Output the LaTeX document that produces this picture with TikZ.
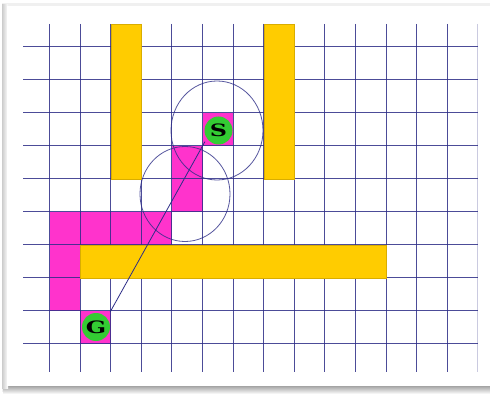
\documentclass[tikz,border=0pt]{standalone}
\usepackage{fontspec}
\newfontfamily\letterfont{DejaVu Serif}
\definecolor{gridc}{RGB}{45,45,135}
\definecolor{barc}{RGB}{255,204,0}
\definecolor{magc}{RGB}{255,51,204}
\definecolor{grnc}{RGB}{51,204,51}
\tikzset{
  gridline/.style={draw=gridc, line width=1pt, opacity=0.85},
  bar/.style={fill=barc, draw=barc!85!black, line width=0.3pt},
  visited/.style={fill=magc},
  ring/.style={draw=gridc, line width=0.8pt, opacity=0.8},
  goal/.style={circle, fill=grnc, minimum size=28pt, inner sep=0pt,
    font=\letterfont\bfseries\fontsize{17}{17}\selectfont},
}
\begin{document}
\begin{tikzpicture}[x=1pt,y=-1pt]
\useasboundingbox (0,0) rectangle (490,395);
% frame with shadow
\fill[gray!12] (2,3) rectangle (490,392);
\shade[top color=gray!80, bottom color=white] (3,385) rectangle (490,394);
\shade[left color=gray!40, right color=white] (2,5) rectangle (8,388);
\fill[white] (7,6) rectangle (490,386);
% visited cells (magenta)
\fill[visited] (202.5,113) rectangle (233.1,146);
\fill[visited] (171.9,146) rectangle (202.5,212);
\fill[visited] (49.5,212) rectangle (171.9,245);
\fill[visited] (49.5,245) rectangle (80.1,311);
\fill[visited] (80.1,311) rectangle (110.7,344);
% grid
\foreach \k in {0,...,13} {
  \draw[gridline] ({49.5+30.6*\k},24) -- ({49.5+30.6*\k},372);
}
\draw[gridline, opacity=0.25] (477.9,24) -- (477.9,372);
\foreach \j in {0,...,9} {
  \draw[gridline] (23,{47+33*\j}) -- (478,{47+33*\j});
}
% obstacles (yellow)
\filldraw[bar] (110.7,24) rectangle (141.3,179);
\filldraw[bar] (263.7,24) rectangle (294.3,179);
\filldraw[bar] (80.1,245) rectangle (386.1,278);
% search circles
\draw[ring] (217,130.5) ellipse [x radius=46pt, y radius=49.5pt];
\draw[ring] (185,194) ellipse [x radius=45pt, y radius=47.5pt];
% start and goal
\coordinate (gc) at (110.7,311);
\coordinate (sc) at (202.5,146);
\draw[gridc, line width=0.8pt, shorten <=-1pt, shorten >=-5pt] (gc) -- (sc);
\node[goal] (S) at (218.5,130.5) {\scalebox{1.4}[1]{S}};
\node[goal] (G) at (96,327) {\scalebox{1.4}[1]{G}};
\end{tikzpicture}
\end{document}
